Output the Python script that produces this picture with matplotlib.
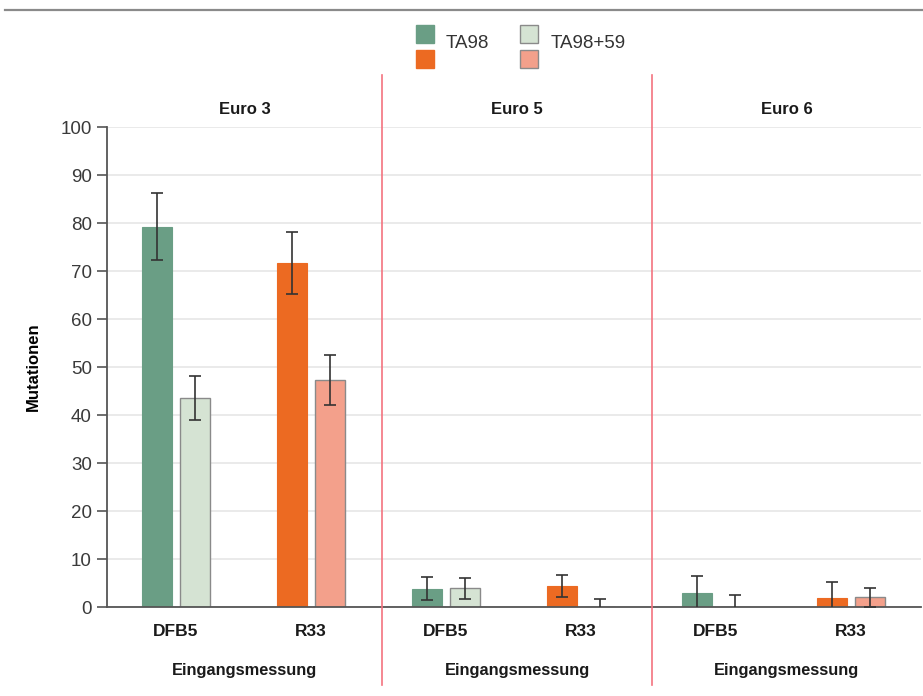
import matplotlib.pyplot as plt
from matplotlib.patches import Rectangle
from matplotlib.lines import Line2D
import numpy as np

plt.rcParams['font.family'] = ['Liberation Sans', 'DejaVu Sans']

# data: order = Euro 3 (DFB5, R33), Euro 5 (DFB5, R33), Euro 6 (DFB5, R33)
panels = ['Euro 3', 'Euro 5', 'Euro 6']
categories = ['DFB5', 'R33'] * 3
ta98 = [79.2, 71.7, 3.8, 4.3, 2.9, 1.9]
ta98_err = [7.0, 6.4, 2.4, 2.3, 3.6, 3.3]
ta98_59 = [43.5, 47.2, 3.9, 0.0, 0.0, 2.0]
ta98_59_err = [4.6, 5.2, 2.2, 1.7, 2.4, 1.9]
xlabel = 'Eingangsmessung'
ylabel = 'Mutationen'

W, H = 923, 696
fig = plt.figure(figsize=(W / 100, H / 100), dpi=100)

def fx(px):
    return px / W

def fy(py):
    return 1 - py / H

ax = fig.add_axes([fx(107), fy(607), fx(921) - fx(107), fy(127) - fy(607)])

dark = ['#6a9e85', '#ec6a22'] * 3
light = ['#d5e3d3', '#f3a08b'] * 3
x = np.arange(len(categories))
off = 0.141
bw = 0.222

ax.bar(x - off, ta98, bw, color=dark, edgecolor=dark, linewidth=0.8, zorder=2)
ax.bar(x + off, ta98_59, bw, color=light, edgecolor='#8a8a8a', linewidth=1.0, zorder=2)
ax.errorbar(x - off, ta98, yerr=ta98_err, fmt='none', ecolor='#333333',
            elinewidth=1.2, capsize=4, capthick=1.2, zorder=3)
ax.errorbar(x + off, ta98_59, yerr=ta98_59_err, fmt='none', ecolor='#333333',
            elinewidth=1.2, capsize=4, capthick=1.2, zorder=3)

ax.set_xlim(-0.511, 5.519)
ax.set_ylim(0, 100)
ax.set_yticks(np.arange(0, 101, 10))
ax.yaxis.grid(True, color='#e6e6e6', linewidth=1.2, zorder=0)
ax.set_axisbelow(True)
ax.set_xticks(x)
ax.set_xticklabels(categories, fontsize=12.5, fontweight='bold', color='#1a1a1a')
ax.tick_params(axis='x', length=0, pad=12)
ax.tick_params(axis='y', length=7, width=1.2, color='#555555', labelsize=13.5,
               labelcolor='#3a3a3a', pad=4)
for s in ['top', 'right']:
    ax.spines[s].set_visible(False)
for s in ['left', 'bottom']:
    ax.spines[s].set_color('#555555')
    ax.spines[s].set_linewidth(1.3)
ax.set_ylabel(ylabel, fontsize=12, fontweight='bold', labelpad=14)

# panel separators
for sx in [1.526, 3.526]:
    ax.plot([sx, sx], [-16.3, 110.8], color='#f4737f', linewidth=1.2,
            clip_on=False, zorder=4)

# panel titles and group labels
for px, name in zip([244.5, 517, 786.5], panels):
    fig.text(fx(px), fy(110), name, ha='center', va='center',
             fontsize=12, fontweight='bold', color='#1a1a1a')
    fig.text(fx(px), fy(670), xlabel, ha='center', va='center',
             fontsize=11.8, fontweight='bold', color='#1a1a1a')

# top rule
fig.add_artist(Line2D([fx(5), fx(923)], [fy(9.5), fy(9.5)], color='#8a8a8a', linewidth=1.6))

# legend
leg = [(416, 25, '#6a9e85', '#6a9e85'), (416, 50, '#ec6a22', '#ec6a22'),
       (520, 25, '#d5e3d3', '#8a8a8a'), (520, 50, '#f3a08b', '#8a8a8a')]
for lx, ly, fc, ec in leg:
    fig.add_artist(Rectangle((fx(lx), fy(ly + 18)), fx(18), 18 / H,
                             facecolor=fc, edgecolor=ec, linewidth=1.0))
fig.text(fx(446), fy(43), 'TA98', ha='left', va='center', fontsize=13.5, color='#333333')
fig.text(fx(551), fy(43), 'TA98+59', ha='left', va='center', fontsize=13.5, color='#333333')

fig.savefig('out.png', dpi=100)
